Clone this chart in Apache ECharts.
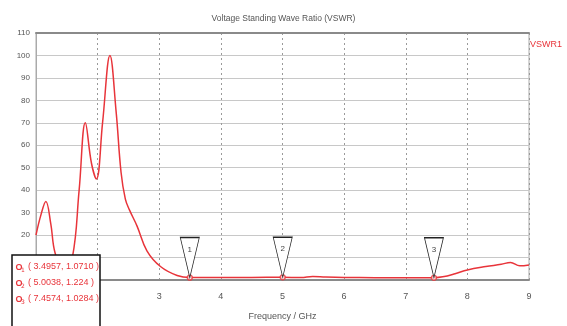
<!DOCTYPE html>
<html>
<head>
<meta charset="utf-8">
<script src="https://cdn.jsdelivr.net/npm/echarts@6/dist/echarts.min.js"></script>
<style>
html,body{margin:0;padding:0;background:#fff;}
#main{width:567px;height:326px;}
</style>
</head>
<body>
<div id="main"></div>
<script>
// VSWR 曲线数据 (频率 GHz / 驻波比)
var freqs = [1.0, 1.08, 1.16, 1.24, 1.31, 1.45, 1.59, 1.7, 1.8, 1.9, 1.98, 2.08, 2.2, 2.3, 2.38, 2.45, 2.52, 2.64, 2.8, 3.02, 3.29, 3.5, 4.0, 4.5, 5.0, 5.3, 5.49, 5.7, 6.0, 6.5, 7.0, 7.46, 7.6, 7.8, 8.0, 8.3, 8.55, 8.7, 8.85, 9.0];
var vswr = [20, 29, 35, 25, 12, 4, 10, 40, 70, 52, 45, 70, 100, 75, 48, 36, 31, 24, 13, 6, 2, 1.07, 1.1, 1.15, 1.22, 1.1, 1.6, 1.3, 1.1, 1.05, 1.04, 1.03, 1.4, 2.8, 4.5, 6, 7, 7.8, 6.3, 6.7];
var xTicks = [1, 2, 3, 4, 5, 6, 7, 8, 9];
var yTicks = [0, 10, 20, 30, 40, 50, 60, 70, 80, 90, 100, 110];
// 标记点
var markerNames = ['1', '2', '3'];
var markerX = [3.4957, 5.0038, 7.4574];
var markerY = [1.0710, 1.224, 1.0284];
var markerText = ['( 3.4957, 1.0710 )', '( 5.0038, 1.224 )', '( 7.4574, 1.0284 )'];

var red = '#e8343a';

var lineData = freqs.map(function(f, i){ return [f, vswr[i]]; });

var marks = markerX.map(function(x, i){
    return {
        name: markerNames[i],
        coord: [x, markerY[i]],
        value: markerNames[i]
    };
});

var myChart = echarts.init(document.getElementById('main'));

var legendItems = [];
markerText.forEach(function(t, i){
    legendItems.push({
        type: 'circle', z: 101,
        shape: {cx: 19, cy: 267 + i * 16, r: 2.5},
        style: {fill: 'none', stroke: red, lineWidth: 1.2}
    });
    legendItems.push({
        type: 'text', z: 101, left: 21, top: 267 + i * 16,
        style: {text: markerNames[i], fill: red, font: '6px "DejaVu Sans"'}
    });
    legendItems.push({
        type: 'text', z: 101, left: 28, top: 262 + i * 16,
        style: {text: t, fill: red, font: '9px "Liberation Sans"'}
    });
});

var option = {
    backgroundColor: '#fff',
    animation: false,
    title: {
        text: 'Voltage Standing Wave Ratio (VSWR)',
        left: 'center',
        top: 9,
        textStyle: {fontSize: 8.5, fontWeight: 'normal', color: '#555', fontFamily: 'Liberation Sans'}
    },
    grid: {
        left: 36, right: 38, top: 33, bottom: 46,
        show: true, borderColor: '#aaa', borderWidth: 1
    },
    xAxis: [{
        type: 'value',
        min: xTicks[0], max: xTicks[xTicks.length - 1], interval: 1,
        name: 'Frequency / GHz',
        nameLocation: 'middle',
        nameGap: 32,
        nameTextStyle: {fontSize: 9, color: '#555', fontFamily: 'Liberation Sans'},
        axisLabel: {fontSize: 9, color: '#555', margin: 12, fontFamily: 'Liberation Sans'},
        axisTick: {show: false},
        axisLine: {lineStyle: {color: '#8a8a8a', width: 2}},
        splitLine: {show: true, lineStyle: {type: [2, 3], color: '#9a9a9a'}}
    }, {
        type: 'value', position: 'top',
        min: xTicks[0], max: xTicks[xTicks.length - 1],
        axisLabel: {show: false}, axisTick: {show: false},
        axisLine: {show: true, lineStyle: {color: '#8a8a8a', width: 2}},
        splitLine: {show: false}
    }],
    yAxis: {
        type: 'value',
        min: yTicks[0], max: yTicks[yTicks.length - 1], interval: 10,
        axisLabel: {fontSize: 8, color: '#555', margin: 6, fontFamily: 'Liberation Sans'},
        axisTick: {show: false},
        axisLine: {show: true, lineStyle: {color: '#aaa'}},
        splitLine: {lineStyle: {color: '#c8c8c8', width: 1.2}}
    },
    series: [{
        name: 'VSWR1',
        type: 'line',
        smooth: 0.4,
        symbol: 'none',
        data: lineData,
        lineStyle: {color: red, width: 1.5},
        markPoint: {
            symbol: 'path://M0,0 L20,0 L10,44 Z',
            symbolSize: [19, 40],
            symbolOffset: [0, '-50%'],
            itemStyle: {color: '#fff', borderColor: '#222', borderWidth: 1},
            label: {show: true, position: 'inside', offset: [0, -8], fontSize: 8, color: '#444',
                formatter: function(p){ return p.name; }},
            data: marks
        },
        z: 3
    }, {
        name: 'markers',
        type: 'scatter',
        symbol: 'circle',
        symbolSize: 5,
        itemStyle: {color: '#fff', borderColor: red, borderWidth: 1.5},
        data: markerX.map(function(x, i){ return [x, markerY[i]]; }),
        z: 4
    }],
    graphic: [{
        type: 'text', right: 5, top: 40,
        style: {text: 'VSWR1', fill: red, font: '9px "Liberation Sans"'}
    }, {
        type: 'rect', z: 100,
        shape: {x: 12, y: 255, width: 88, height: 75},
        style: {fill: '#fff', stroke: '#111', lineWidth: 1.5}
    }].concat(legendItems)
};

myChart.setOption(option);
</script>
</body>
</html>
